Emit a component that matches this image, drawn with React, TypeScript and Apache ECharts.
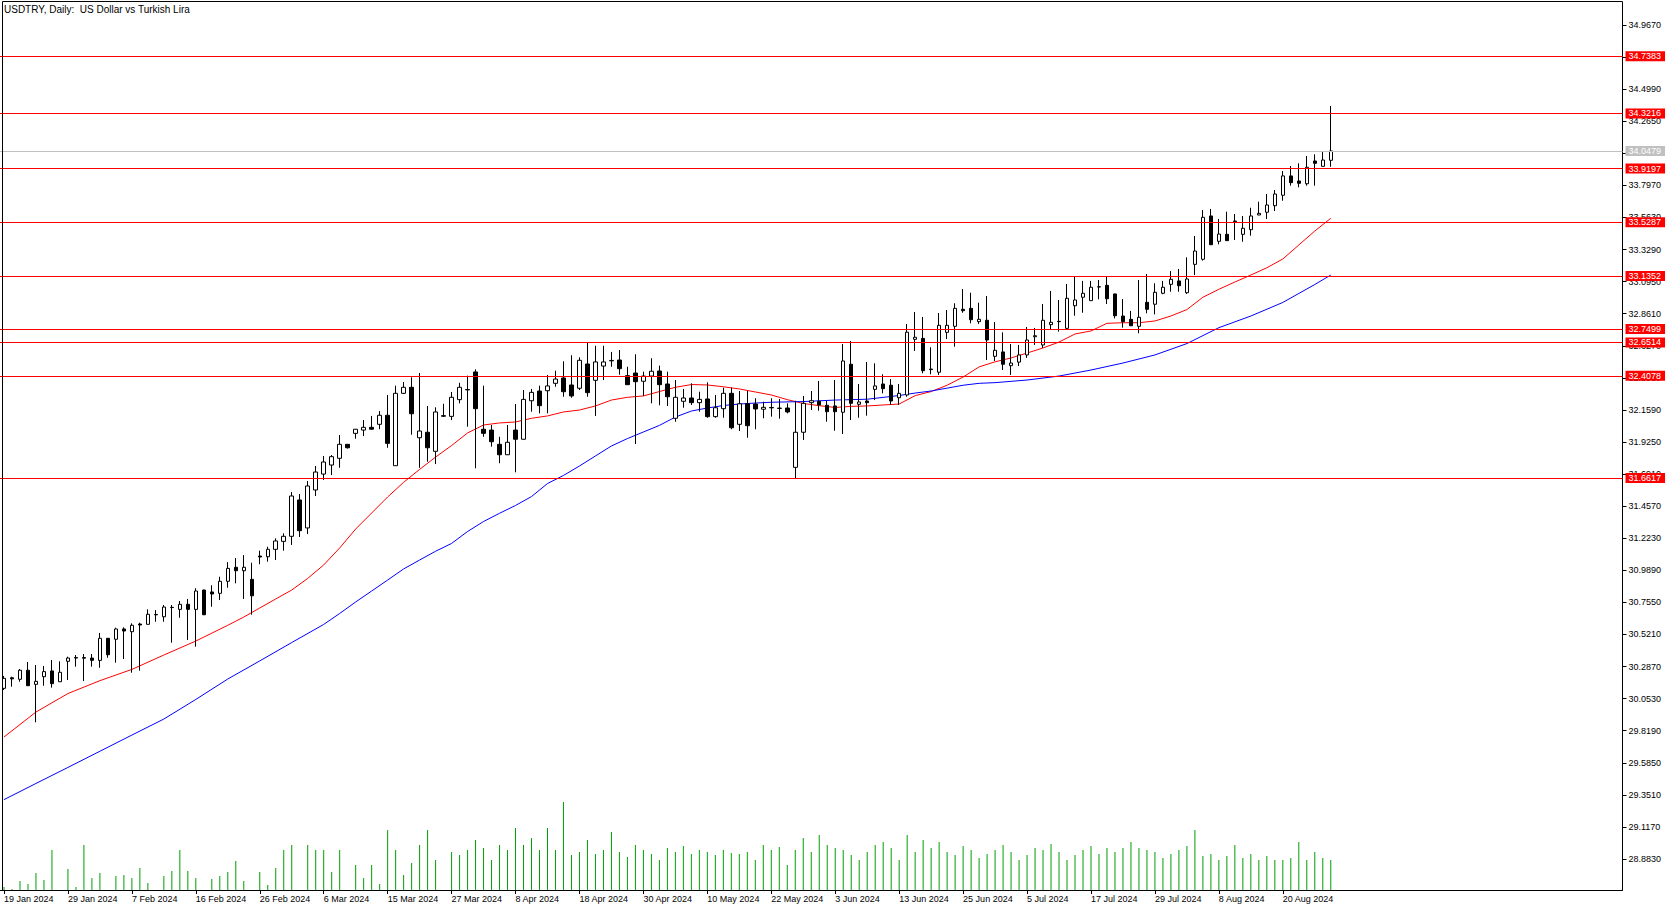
import React, { useEffect, useRef } from "react";
import * as echarts from "echarts";

const chartTitle = "USDTRY, Daily:  US Dollar vs Turkish Lira";
const dateLabels = [
  "19 Jan 2024", "29 Jan 2024", "7 Feb 2024", "16 Feb 2024", "26 Feb 2024", "6 Mar 2024",
  "15 Mar 2024", "27 Mar 2024", "8 Apr 2024", "18 Apr 2024", "30 Apr 2024", "10 May 2024",
  "22 May 2024", "3 Jun 2024", "13 Jun 2024", "25 Jun 2024", "5 Jul 2024", "17 Jul 2024",
  "29 Jul 2024", "8 Aug 2024", "20 Aug 2024",
];
const barsPerLabel = 8;
const slotCount = 203;

const yTicks = [
  28.883, 29.117, 29.351, 29.585, 29.819, 30.053, 30.287, 30.521, 30.755, 30.989, 31.223,
  31.457, 31.691, 31.925, 32.159, 32.393, 32.627, 32.861, 33.095, 33.329, 33.563, 33.797,
  34.031, 34.265, 34.499, 34.733, 34.967,
];
const priceMin = 28.6568;
const priceMax = 35.1348;

const levels = [34.7383, 34.3216, 33.9197, 33.5287, 33.1352, 32.7499, 32.6514, 32.4078, 31.6617];
const lastPrice = 34.0479;

const opens = [
  30.128, 30.205, 30.194, 30.26, 30.157, 30.213, 30.255, 30.176, 30.325, 30.352,
  30.352, 30.349, 30.332, 30.493, 30.486, 30.561, 30.541, 30.597, 30.595, 30.667,
  30.65, 30.719, 30.704, 30.741, 30.704, 30.845, 30.831, 30.821, 30.909, 31.011,
  30.986, 30.923, 31.093, 31.088, 31.142, 31.2, 31.237, 31.502, 31.298, 31.575,
  31.691, 31.757, 31.806, 31.908, 31.988, 32.012, 32.032, 32.054, 32.12, 31.752,
  32.28, 32.324, 31.956, 31.996, 31.857, 32.117, 32.112, 32.234, 32.308, 32.436,
  32.018, 32.012, 31.908, 31.832, 32.012, 31.945, 32.226, 32.297, 32.299, 32.353,
  32.392, 32.341, 32.317, 32.494, 32.375, 32.479, 32.52, 32.523, 32.409, 32.428,
  32.368, 32.406, 32.443, 32.348, 32.098, 32.222, 32.246, 32.212, 32.239, 32.11,
  32.168, 32.28, 32.054, 32.204, 32.202, 32.164, 32.177, 32.172, 32.173, 31.74,
  31.996, 32.212, 32.222, 32.193, 32.188, 32.142, 32.492, 32.2, 32.224, 32.309,
  32.348, 32.339, 32.248, 32.268, 32.674, 32.681, 32.457, 32.434, 32.725, 32.769,
  32.893, 32.9, 32.803, 32.813, 32.55, 32.582, 32.482, 32.508, 32.56, 32.693,
  32.633, 32.781, 32.805, 32.754, 32.919, 32.981, 32.956, 33.057, 33.068, 33.005,
  32.844, 32.82, 32.769, 32.944, 32.93, 33.01, 33.075, 33.1, 33.014, 33.221,
  33.258, 33.574, 33.389, 33.44, 33.537, 33.44, 33.474, 33.581, 33.601, 33.649,
  33.725, 33.866, 33.829, 33.809, 33.975, 33.936, 33.98,
];
const highs = [
  30.218, 30.213, 30.269, 30.32, 30.298, 30.291, 30.335, 30.325, 30.359, 30.371,
  30.378, 30.378, 30.532, 30.495, 30.57, 30.573, 30.602, 30.607, 30.704, 30.699,
  30.736, 30.736, 30.765, 30.78, 30.858, 30.848, 30.88, 30.942, 31.049, 31.078,
  31.1, 31.044, 31.132, 31.161, 31.222, 31.259, 31.56, 31.546, 31.64, 31.75,
  31.823, 31.83, 31.976, 31.91, 32.02, 32.085, 32.115, 32.151, 32.268, 32.336,
  32.363, 32.397, 32.428, 32.188, 32.178, 32.204, 32.29, 32.357, 32.409, 32.455,
  32.336, 32.049, 31.963, 32.049, 32.202, 32.304, 32.312, 32.336, 32.414, 32.445,
  32.514, 32.558, 32.543, 32.649, 32.627, 32.627, 32.582, 32.596, 32.474, 32.565,
  32.438, 32.536, 32.482, 32.438, 32.377, 32.312, 32.353, 32.292, 32.36, 32.268,
  32.321, 32.321, 32.297, 32.297, 32.244, 32.219, 32.244, 32.239, 32.207, 32.226,
  32.261, 32.297, 32.37, 32.226, 32.377, 32.64, 32.662, 32.348, 32.509, 32.499,
  32.419, 32.384, 32.348, 32.786, 32.873, 32.837, 32.616, 32.866, 32.888, 32.937,
  33.041, 33.014, 32.941, 32.99, 32.8, 32.725, 32.64, 32.633, 32.764, 32.757,
  32.932, 33.027, 32.961, 33.078, 33.131, 33.1, 33.1, 33.107, 33.131, 33.007,
  32.968, 32.881, 33.107, 33.151, 33.083, 33.1, 33.172, 33.187, 33.272, 33.428,
  33.617, 33.625, 33.552, 33.605, 33.588, 33.574, 33.634, 33.678, 33.734, 33.763,
  33.902, 33.938, 33.958, 34.011, 34.024, 34.043, 34.376,
];
const lows = [
  30.116, 30.14, 30.176, 30.145, 29.88, 30.147, 30.133, 30.174, 30.189, 30.286,
  30.181, 30.286, 30.278, 30.351, 30.315, 30.342, 30.242, 30.257, 30.593, 30.614,
  30.614, 30.461, 30.643, 30.481, 30.432, 30.662, 30.723, 30.772, 30.862, 30.894,
  30.78, 30.665, 31.033, 31.052, 31.064, 31.132, 31.174, 31.232, 31.254, 31.531,
  31.648, 31.684, 31.737, 31.877, 31.949, 31.968, 32.016, 32.018, 31.883, 31.75,
  32.275, 31.978, 31.737, 31.781, 31.764, 32.108, 32.085, 32.207, 32.037, 31.733,
  31.963, 31.891, 31.77, 31.83, 31.704, 31.943, 32.146, 32.134, 32.134, 32.328,
  32.255, 32.248, 32.304, 32.255, 32.115, 32.377, 32.474, 32.416, 32.341, 31.91,
  32.261, 32.207, 32.193, 32.188, 32.073, 32.175, 32.195, 32.146, 32.102, 32.102,
  32.102, 32.018, 32.005, 31.956, 32.018, 32.098, 32.11, 32.095, 32.134, 31.662,
  31.94, 32.158, 32.153, 32.073, 32.007, 31.983, 32.085, 32.102, 32.117, 32.231,
  32.28, 32.195, 32.195, 32.255, 32.589, 32.426, 32.419, 32.414, 32.676, 32.62,
  32.868, 32.791, 32.786, 32.523, 32.516, 32.45, 32.414, 32.479, 32.538, 32.633,
  32.611, 32.742, 32.73, 32.742, 32.846, 32.868, 32.954, 32.966, 32.932, 32.827,
  32.759, 32.771, 32.718, 32.864, 32.856, 33.003, 33.021, 33.021, 33.005, 33.143,
  33.248, 33.362, 33.367, 33.392, 33.399, 33.386, 33.43, 33.58, 33.552, 33.61,
  33.685, 33.795, 33.783, 33.795, 33.795, 33.933, 33.933,
];
const closes = [
  30.201, 30.197, 30.26, 30.147, 30.179, 30.25, 30.162, 30.245, 30.349, 30.349,
  30.348, 30.332, 30.493, 30.373, 30.561, 30.546, 30.588, 30.59, 30.668, 30.664,
  30.721, 30.717, 30.741, 30.704, 30.838, 30.665, 30.816, 30.909, 31.003, 30.986,
  31.011, 30.803, 31.086, 31.142, 31.203, 31.237, 31.531, 31.278, 31.604, 31.706,
  31.779, 31.818, 31.908, 31.883, 32.018, 32.032, 32.018, 32.12, 31.915, 32.28,
  32.324, 32.131, 32.005, 31.883, 32.144, 32.113, 32.251, 32.324, 32.305, 32.168,
  31.988, 31.927, 31.832, 31.923, 31.945, 32.236, 32.287, 32.19, 32.334, 32.384,
  32.292, 32.261, 32.521, 32.285, 32.509, 32.509, 32.517, 32.46, 32.343, 32.365,
  32.406, 32.441, 32.343, 32.255, 32.251, 32.246, 32.212, 32.236, 32.11, 32.175,
  32.28, 32.029, 32.204, 32.044, 32.166, 32.178, 32.174, 32.17, 32.144, 31.996,
  32.207, 32.226, 32.195, 32.146, 32.146, 32.516, 32.207, 32.217, 32.212, 32.334,
  32.314, 32.224, 32.28, 32.726, 32.689, 32.445, 32.453, 32.776, 32.776, 32.9,
  32.883, 32.817, 32.82, 32.669, 32.594, 32.492, 32.501, 32.56, 32.669, 32.7,
  32.813, 32.798, 32.803, 32.973, 32.961, 33.01, 33.054, 33.056, 32.97, 32.846,
  32.803, 32.773, 32.835, 32.893, 33.017, 33.054, 33.112, 33.065, 33.114, 33.318,
  33.564, 33.364, 33.442, 33.394, 33.533, 33.484, 33.574, 33.593, 33.654, 33.734,
  33.866, 33.817, 33.812, 33.929, 33.958, 33.982, 34.048,
];

// tick volume (thousands)
const volumes = [
  3, 1, 9, 6, 17, 10, 40, 0, 21, 3, 45, 12, 17, 0, 14, 15, 12, 22, 7, 0,
  14, 19, 40, 19, 12, 0, 11, 14, 18, 29, 9, 0, 18, 5, 22, 40, 45, 0, 45, 40,
  40, 18, 40, 0, 25, 12, 25, 6, 60, 40, 15, 27, 45, 60, 30, 0, 38, 35, 40, 50,
  42, 30, 45, 40, 62, 45, 52, 40, 62, 40, 88, 35, 38, 50, 36, 40, 58, 38, 33, 45,
  40, 36, 30, 42, 38, 44, 36, 40, 38, 35, 40, 37, 36, 38, 30, 45, 40, 43, 25, 40,
  52, 38, 55, 45, 42, 40, 35, 30, 38, 45, 48, 42, 30, 55, 38, 50, 42, 48, 38, 35,
  44, 40, 32, 36, 40, 45, 38, 30, 35, 42, 40, 46, 38, 30, 35, 40, 44, 36, 42, 38,
  42, 48, 42, 40, 38, 32, 36, 40, 44, 60, 34, 36, 30, 34, 45, 32, 36, 30, 34, 30,
  30, 32, 48, 30, 38, 32, 30,
];

const maRed = [
  [0, 29.773], [4, 29.955], [8, 30.09], [12, 30.184], [16, 30.266], [20, 30.371], [24, 30.473],
  [28, 30.588], [30, 30.648], [32, 30.714], [34, 30.78], [36, 30.845], [38, 30.93], [40, 31.028],
  [42, 31.152], [44, 31.29], [46, 31.407], [48, 31.524], [50, 31.631], [52, 31.725], [54, 31.815],
  [56, 31.899], [58, 31.991], [60, 32.049], [62, 32.064], [64, 32.071], [66, 32.098], [68, 32.115],
  [70, 32.144], [72, 32.158], [74, 32.188], [76, 32.231], [78, 32.251], [80, 32.261], [82, 32.293],
  [84, 32.324], [86, 32.344], [88, 32.341], [90, 32.328], [92, 32.312], [94, 32.29], [96, 32.268],
  [98, 32.234], [100, 32.206], [102, 32.19], [104, 32.177], [106, 32.185], [108, 32.188],
  [110, 32.195], [112, 32.202], [114, 32.263], [116, 32.293], [118, 32.339], [120, 32.399],
  [122, 32.473], [124, 32.51], [126, 32.538], [128, 32.574], [130, 32.611], [132, 32.654],
  [134, 32.713], [136, 32.735], [138, 32.791], [140, 32.795], [142, 32.795], [144, 32.808],
  [146, 32.844], [148, 32.891], [150, 32.981], [152, 33.039], [154, 33.092], [156, 33.143],
  [158, 33.196], [160, 33.26], [162, 33.362], [164, 33.464], [166, 33.557],
];
const maBlue = [
  [0, 29.316], [4, 29.434], [8, 29.551], [12, 29.669], [16, 29.787], [20, 29.904], [24, 30.047],
  [28, 30.196], [32, 30.328], [36, 30.462], [40, 30.594], [42, 30.674], [44, 30.758], [46, 30.838],
  [48, 30.918], [50, 30.999], [52, 31.064], [54, 31.128], [56, 31.185], [58, 31.272], [60, 31.345],
  [62, 31.405], [64, 31.462], [66, 31.527], [68, 31.622], [70, 31.681], [72, 31.75], [74, 31.823],
  [76, 31.896], [78, 31.95], [80, 31.998], [82, 32.046], [84, 32.107], [86, 32.151], [88, 32.173],
  [90, 32.191], [92, 32.202], [94, 32.209], [96, 32.215], [100, 32.22], [104, 32.231],
  [108, 32.237], [112, 32.264], [114, 32.282], [116, 32.297], [118, 32.318], [120, 32.339],
  [122, 32.353], [124, 32.358], [128, 32.377], [132, 32.406], [136, 32.45], [140, 32.501],
  [144, 32.56], [148, 32.643], [152, 32.759], [156, 32.844], [160, 32.943], [164, 33.074],
  [166, 33.143],
];

const FONT = "'Liberation Sans', Arial, sans-serif";

export default function App() {
  const ref = useRef<HTMLDivElement>(null);

  useEffect(() => {
    if (!ref.current) return;
    const chart = echarts.init(ref.current, undefined, { renderer: "svg" });

    const slots = Array.from({ length: slotCount }, (_, i) => String(i));
    const candles = opens.map((o, i) => [o, closes[i], lows[i], highs[i]]);
    const showTick = (idx: number) => idx % barsPerLabel === 0 && idx / barsPerLabel < dateLabels.length;

    const levelItems: any[] = levels.map((v) => ({
      yAxis: v,
      lineStyle: { color: "#ff0000", width: 1, type: "solid" },
      label: { backgroundColor: "#ff0000" },
    }));
    levelItems.push({
      yAxis: lastPrice,
      lineStyle: { color: "#c0c0c0", width: 1, type: "solid" },
      label: { backgroundColor: "#c0c0c0" },
    });

    chart.setOption({
      animation: false,
      backgroundColor: "#ffffff",
      textStyle: { fontFamily: FONT },
      grid: [
        { left: -1.5, right: 53.5, top: 2, bottom: 21 },
        { left: -1.5, right: 53.5, top: 790, bottom: 21 },
      ],
      xAxis: [
        {
          type: "category",
          gridIndex: 0,
          data: slots,
          boundaryGap: true,
          axisLine: { show: true, lineStyle: { color: "#000", width: 1 } },
          axisTick: {
            show: true,
            alignWithLabel: true,
            interval: (idx: number) => showTick(idx),
            length: 4,
            lineStyle: { color: "#000" },
          },
          axisLabel: {
            interval: (idx: number) => showTick(idx),
            formatter: (_v: string, idx: number) =>
              showTick(idx) ? dateLabels[idx / barsPerLabel] : "",
            align: "left",
            margin: 4,
            fontSize: 9,
            fontFamily: FONT,
            color: "#000",
          },
          splitLine: { show: false },
        },
        { type: "category", gridIndex: 1, data: slots, boundaryGap: true, show: false },
      ],
      yAxis: [
        {
          type: "value",
          gridIndex: 0,
          position: "right",
          min: priceMin,
          max: priceMax,
          axisLine: { show: true, lineStyle: { color: "#000", width: 1 } },
          axisTick: { show: true, length: 4, customValues: yTicks, lineStyle: { color: "#000" } },
          axisLabel: {
            customValues: yTicks,
            formatter: (v: number) => v.toFixed(4),
            fontSize: 9,
            fontFamily: FONT,
            color: "#000",
            margin: 6,
          },
          splitLine: { show: false },
        },
        { type: "value", gridIndex: 1, min: 0, max: 100, show: false },
      ],
      series: [
        {
          type: "bar",
          name: "Volume",
          xAxisIndex: 1,
          yAxisIndex: 1,
          data: volumes,
          barWidth: 1,
          itemStyle: { color: "#00a000" },
          silent: true,
        },
        {
          type: "line",
          name: "MA fast",
          data: maRed,
          symbol: "none",
          lineStyle: { color: "#ff0000", width: 1 },
          silent: true,
          z: 3,
        },
        {
          type: "line",
          name: "MA slow",
          data: maBlue,
          symbol: "none",
          lineStyle: { color: "#0000ff", width: 1 },
          silent: true,
          z: 3,
        },
        {
          type: "candlestick",
          name: "USDTRY",
          data: candles,
          barWidth: 4,
          z: 4,
          itemStyle: {
            color: "#ffffff",
            color0: "#000000",
            borderColor: "#000000",
            borderColor0: "#000000",
            borderColorDoji: "#000000",
            borderWidth: 1,
          },
          markLine: {
            silent: true,
            symbol: ["none", "none"],
            precision: 4,
            animation: false,
            label: {
              show: true,
              position: "end",
              distance: 3,
              formatter: (p: any) => Number(p.value).toFixed(4),
              color: "#ffffff",
              fontSize: 9,
              fontFamily: FONT,
              lineHeight: 10,
              padding: [0, 4, 0, 3],
            },
            data: levelItems,
          },
        },
      ],
      graphic: [
        {
          type: "line",
          shape: { x1: 2.5, y1: 1.5, x2: 2.5, y2: 890 },
          style: { stroke: "#000", lineWidth: 1 },
          z: 10,
        },
        {
          type: "line",
          shape: { x1: 2.5, y1: 1.5, x2: 1622.5, y2: 1.5 },
          style: { stroke: "#000", lineWidth: 1 },
          z: 10,
        },
        {
          type: "text",
          left: 4,
          top: 4,
          style: { text: chartTitle, fontSize: 10, fontFamily: FONT, fill: "#000" },
          z: 10,
        },
      ],
    });

    return () => chart.dispose();
  }, []);

  return (
    <div
      ref={ref}
      style={{ position: "absolute", left: 0, top: 0, width: "1676px", height: "911px", background: "#fff" }}
    />
  );
}
